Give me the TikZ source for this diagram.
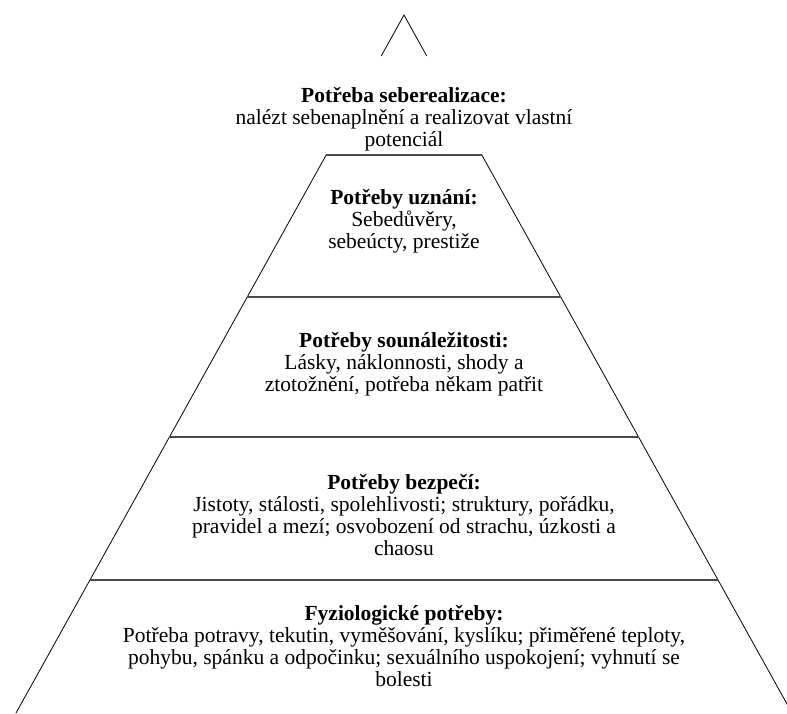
\documentclass[tikz,border=0pt]{standalone}
\usepackage{fontspec}
\setmainfont{Liberation Serif}
\usetikzlibrary{positioning, calc}
\definecolor{Rule}{HTML}{4A4A4A}

\begin{document}
\begin{tikzpicture}[
    x=1pt, y=-1pt,
    level/.style={align=center, inner sep=0pt, font=\fontsize{21.5}{21.8}\selectfont},
    side/.style={draw=black, line width=0.8pt},
    tier/.style={draw=Rule, line width=1.8pt}
]
\useasboundingbox (0,0) rectangle (787,713);

% Pyramid outline
\coordinate (apex) at (404,15);
\coordinate (bl) at (16,713);
\coordinate (br) at (792,713);
\coordinate (tl) at ($(apex)!{41/698}!(bl)$);
\coordinate (tr) at ($(apex)!{41/698}!(br)$);
\coordinate (ml) at ($(apex)!{140/698}!(bl)$);
\coordinate (mr) at ($(apex)!{140/698}!(br)$);
\draw[side] (tl) -- (apex) -- (tr);
\draw[side] (ml) -- (bl);
\draw[side] (mr) -- (br);

% Tier lines
\foreach \yy in {155, 297, 437, 580}{
  \draw[tier] ($(apex)!{(\yy-15)/698}!(bl)$) -- ($(apex)!{(\yy-15)/698}!(br)$);
}

% Levels
\node[level] (selfreal) at (404,119) {\textbf{Potřeba seberealizace:}\\nalézt sebenaplnění a realizovat vlastní\\potenciál};
\node[level] (esteem) at (404,221) {\textbf{Potřeby uznání:}\\Sebedůvěry,\\sebeúcty, prestiže};
\node[level] (belong) at (404,364) {\textbf{Potřeby sounáležitosti:}\\Lásky, náklonnosti, shody a\\ztotožnění, potřeba někam patřit};
\node[level] (safety) at (404,515) {\textbf{Potřeby bezpečí:}\\Jistoty, stálosti, spolehlivosti; struktury, pořádku,\\pravidel a mezí; osvobození od strachu, úzkosti a\\chaosu};
\node[level] (physio) at (404,646) {\textbf{Fyziologické potřeby:}\\Potřeba potravy, tekutin, vyměšování, kyslíku; přiměřené teploty,\\pohybu, spánku a odpočinku; sexuálního uspokojení; vyhnutí se\\bolesti};

\end{tikzpicture}
\end{document}
